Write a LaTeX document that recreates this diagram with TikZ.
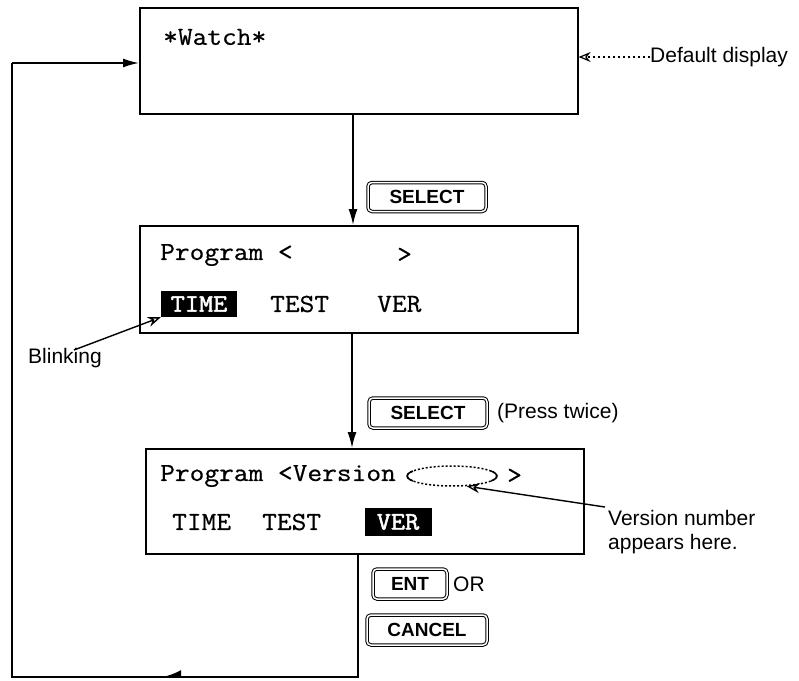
\documentclass[tikz,border=0pt]{standalone}
\usepackage{fontspec}
\setmainfont{Liberation Sans}
\newfontfamily\monofam[FakeStretch=1.1,FakeBold=0.6]{Latin Modern Mono}
\newfontfamily\monobold[FakeStretch=1.1,FakeBold=2]{Latin Modern Mono}
\usetikzlibrary{arrows.meta,shapes.geometric}
\begin{document}
\begin{tikzpicture}[x=1pt,y=-1pt,
  panel/.style={draw, line width=1.6pt, anchor=north west, inner sep=0pt},
  mono/.style={font=\monofam\fontsize{26}{26}\selectfont, inner sep=0pt, anchor=west},
  hilite/.style={fill=black, text=white, font=\monobold\fontsize{25}{25}\selectfont, inner sep=0pt},
  label/.style={font=\fontsize{21}{24}\selectfont, inner sep=0pt, anchor=west},
  key/.style={draw, double, double distance=1.5pt, line width=1pt, rounded corners=4pt,
    font=\bfseries\fontsize{19}{19}\selectfont, inner sep=0pt},
  conn/.style={line width=1.6pt},
  arr/.style={conn, -{Latex[length=16pt,width=9pt]}},
  thin arrow/.style={line width=1.4pt, -{Stealth[open,length=13pt,width=10pt]}}
]
\useasboundingbox (0,0) rectangle (799,680);

% panels
\node[panel, minimum width=438pt, minimum height=106pt] (b1) at (139,7) {};
\node[panel, minimum width=438pt, minimum height=107pt] (b2) at (139,225) {};
\node[panel, minimum width=438pt, minimum height=105pt] (b3) at (145,448) {};

% panel 1 text
\node[mono] (w) at (163,37) {*Watch*};

% panel 2 text
\node[mono] (p2a) at (160,255) {Program <};
\node[mono] (p2b) at (397,255) {>};
\node[hilite, minimum width=76pt, minimum height=26pt] (time2) at (199,304) {TIME};
\node[mono] (test2) at (270,304) {TEST};
\node[mono] (ver2) at (377,304) {VER};

% panel 3 text
\node[mono] (p3a) at (160,476) {Program <Version};
\node[draw, ellipse, dash pattern=on 2pt off 2pt, line width=1.5pt, minimum width=90pt, minimum height=20pt, inner sep=0pt] (ell) at (452,476) {};
\draw[line width=1.5pt] ([shift={(150:45pt and 10pt)}]ell.center) arc[start angle=150, end angle=210, x radius=45pt, y radius=10pt];
\draw[line width=1.5pt] ([shift={(30:45pt and 10pt)}]ell.center) arc[start angle=30, end angle=-30, x radius=45pt, y radius=10pt];
\node[mono] (p3b) at (507,476) {>};
\node[mono] (time3) at (172,522) {TIME};
\node[mono] (test3) at (262,522) {TEST};
\node[hilite, minimum width=67pt, minimum height=28pt] (ver3) at (398,522) {VER};

% keys
\node[key, minimum width=118pt, minimum height=29pt] (sel1) at (427,197) {SELECT};
\node[key, minimum width=118pt, minimum height=30pt] (sel2) at (428,413) {SELECT};
\node[label] (twice) at (497,413) {(Press twice)};
\node[key, minimum width=74pt, minimum height=30pt] (ent) at (410,584) {ENT};
\node[label] (or) at (453,584) {OR};
\node[key, minimum width=120pt, minimum height=30pt] (cancel) at (427,630) {CANCEL};

% side labels
\node[label] (dd) at (650,57) {Default display};
\node[label] (blk) at (28,358) {Blinking};
\node[label, align=left] (vn) at (608,532) {Version number\\appears here.};

% connectors
\coordinate (x1) at (353,0);
\coordinate (x2) at (352,0);
\draw[arr] (b1.south -| x1) -- (b2.north -| x1);
\draw[arr] (b2.south -| x2) -- (b3.north -| x2);

\coordinate (lb) at (358,677);
\coordinate (mid) at (160,677);
\coordinate (ll) at (12,677);
\coordinate (lt) at (12,63);
\draw[conn] (b3.south -| lb) -- (lb) -- (ll) -- (lt);
\draw[conn, -{Latex[harpoon,swap,length=18pt,width=14pt]}] (lb) -- (mid);
\draw[arr] (lt) -- (b1.west |- lt);

% pointer arrows
\draw[line width=1.2pt, dash pattern=on 2.5pt off 2.5pt, -{Stealth[open,length=12pt,width=10pt]}] (dd.west) -- (b1.east |- dd.west);
\draw[thin arrow] ([xshift=-28pt,yshift=-2pt]blk.north east) -- (time2.south west);
\draw[thin arrow] ([xshift=-3pt,yshift=3pt]vn.north west) -- (ell.-35);
\end{tikzpicture}
\end{document}
